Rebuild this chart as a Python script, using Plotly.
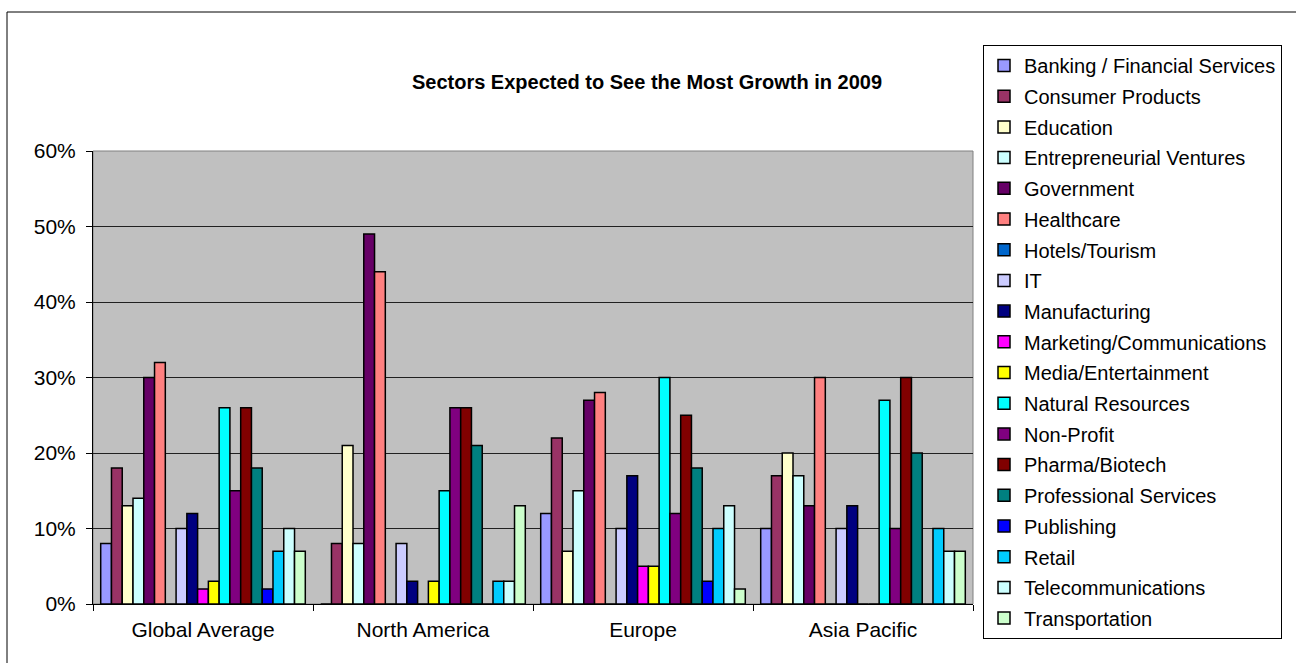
import plotly.graph_objects as go

regions = ["Global Average", "North America", "Europe", "Asia Pacific"]

sectors = [
    "Banking / Financial Services", "Consumer Products", "Education",
    "Entrepreneurial Ventures", "Government", "Healthcare", "Hotels/Tourism",
    "IT", "Manufacturing", "Marketing/Communications", "Media/Entertainment",
    "Natural Resources", "Non-Profit", "Pharma/Biotech", "Professional Services",
    "Publishing", "Retail", "Telecommunications", "Transportation",
]

# percent values per sector, order: Global, North America, Europe, Asia Pacific
banking = [8, 0, 12, 10]
consumer = [18, 8, 22, 17]
education = [13, 21, 7, 20]
entrepreneurial = [14, 8, 15, 17]
government = [30, 49, 27, 13]
healthcare = [32, 44, 28, 30]
hotels = [0, 0, 0, 0]
it = [10, 8, 10, 10]
manufacturing = [12, 3, 17, 13]
marketing = [2, 0, 5, 0]
media = [3, 3, 5, 0]
natural = [26, 15, 30, 27]
nonprofit = [15, 26, 12, 10]
pharma = [26, 26, 25, 30]
professional = [18, 21, 18, 20]
publishing = [2, 0, 3, 0]
retail = [7, 3, 10, 10]
telecom = [10, 3, 13, 7]
transportation = [7, 13, 2, 7]

series = [banking, consumer, education, entrepreneurial, government, healthcare,
          hotels, it, manufacturing, marketing, media, natural, nonprofit, pharma,
          professional, publishing, retail, telecom, transportation]

colors = ["#9999FF", "#993366", "#FFFFCC", "#CCFFFF", "#660066", "#FF8080",
          "#0066CC", "#CCCCFF", "#000080", "#FF00FF", "#FFFF00", "#00FFFF",
          "#800080", "#800000", "#008080", "#0000FF", "#00CCFF", "#CCFFFF",
          "#CCFFCC"]

FONT = "Liberation Sans, Arial, sans-serif"

fig = go.Figure()
for i, (name, vals, col) in enumerate(zip(sectors, series, colors)):
    fig.add_trace(go.Bar(
        x=regions, y=vals, name=name, legendgroup=f"g{i}",
        marker=dict(color=col, line=dict(color="black", width=1.5)),
    ))

W, H = 1296, 663
L, R, T, B = 93, 973, 151, 604
pw, ph = R - L, B - T

fig.update_layout(
    width=W, height=H,
    margin=dict(l=L, r=W - R, t=T, b=H - B),
    paper_bgcolor="white",
    plot_bgcolor="#C0C0C0",
    barmode="group",
    bargap=0.07,
    bargroupgap=0,
    font=dict(family=FONT, color="black"),
    title=dict(
        text="<b>Sectors Expected to See the Most Growth in 2009</b>",
        font=dict(family=FONT, size=20, color="black"),
        xref="container", yref="container",
        x=647 / W, y=1 - 82 / H, xanchor="center", yanchor="middle",
    ),
    legend=dict(
        x=(983 - L) / pw, y=(B - 45) / ph, xanchor="left", yanchor="top",
        bgcolor="white", bordercolor="black", borderwidth=1,
        font=dict(family=FONT, size=20, color="black"),
        tracegroupgap=1.7, traceorder="grouped", maxheight=650,
    ),
    xaxis=dict(
        showline=True, linecolor="black", linewidth=1,
        ticks="outside", tickson="boundaries", ticklen=6, tickcolor="black",
        tickfont=dict(family=FONT, size=21, color="black"),
        ticklabelstandoff=7,
        showgrid=False, zeroline=False, fixedrange=True,
    ),
    yaxis=dict(
        range=[0, 60], dtick=10, ticksuffix="%",
        showline=True, linecolor="black", linewidth=1,
        ticks="outside", ticklen=6, tickcolor="black",
        tickfont=dict(family=FONT, size=21, color="black"),
        ticklabelstandoff=6,
        showgrid=True, gridcolor="#202020", gridwidth=1,
        zeroline=False, fixedrange=True,
    ),
    shapes=[
        dict(type="rect", xref="paper", yref="paper",
             x0=0, x1=1, y0=0, y1=1, line=dict(color="#808080", width=1),
             layer="below"),
        dict(type="rect", xref="paper", yref="paper",
             x0=(7 - L) / pw, x1=(1305 - L) / pw,
             y0=(B - 680) / ph, y1=(B - 12) / ph,
             line=dict(color="black", width=1)),
    ],
    showlegend=True,
)

fig.write_html("out.html")
